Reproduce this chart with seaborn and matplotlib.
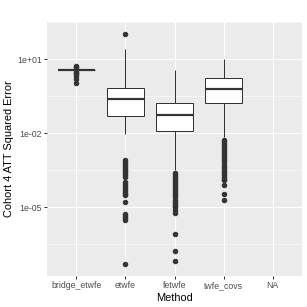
import matplotlib

matplotlib.use("Agg")
import matplotlib.pyplot as plt
import numpy as np
import pandas as pd
import seaborn as sns

# Values, in log10 units
methods = ["bridge_etwfe", "etwfe", "fetwfe", "twfe_covs", "NA"]
box_methods = ["bridge_etwfe", "etwfe", "fetwfe", "twfe_covs"]
q1_log = [0.55, -1.33, -1.90, -0.77]
median_log = [0.55, -0.63, -1.25, -0.20]
q3_log = [0.55, -0.18, -0.80, 0.22]
whisker_lo_log = [0.55, -2.04, -3.52, -2.18]
whisker_hi_log = [0.55, 1.42, 0.57, 0.98]

outliers_bridge = [0.72, 0.66, 0.61, 0.49, 0.44, 0.38, 0.33, 0.18, 0.03]
outliers_etwfe = [2.01,
                  -3.08, -3.16, -3.24, -3.32, -3.40, -3.48, -3.56, -3.64, -3.72, -3.78,
                  -3.99, -4.07, -4.15, -4.23, -4.31, -4.39, -4.46, -4.52,
                  -4.81, -5.30, -5.38, -5.46, -5.54, -7.33]
outliers_fetwfe = [-3.62, -3.70, -3.78, -3.86, -3.94, -4.02,
                   -4.12, -4.20, -4.28, -4.36, -4.44, -4.52, -4.59,
                   -4.70, -4.78, -4.86, -4.94, -5.02, -5.13, -5.24,
                   -6.11, -6.78, -7.20]
outliers_twfe_covs = [-2.28, -2.36, -2.44, -2.52, -2.60, -2.68, -2.76, -2.84,
                      -2.92, -3.00, -3.08, -3.17,
                      -3.31, -3.39, -3.47, -3.55, -3.63, -3.71, -3.79, -3.86, -3.92,
                      -4.12, -4.46, -4.70]
outliers = [outliers_bridge, outliers_etwfe, outliers_fetwfe, outliers_twfe_covs]

# rebuild a sample per method whose box stats match the read-off values
rows = []
m = 100
for i, name in enumerate(box_methods):
    vals = ([whisker_lo_log[i]] + [q1_log[i]] * m + [median_log[i]] * m
            + [q3_log[i]] * m + [whisker_hi_log[i]] + outliers[i])
    rows += [(name, 10 ** v) for v in vals]
df = pd.DataFrame(rows, columns=["Method", "err"])

sns.set_theme(style="darkgrid", rc={
    "axes.facecolor": "#EBEBEB",
    "grid.color": "white",
    "axes.edgecolor": "#EBEBEB",
})
plt.rcParams["font.family"] = ["Liberation Sans", "DejaVu Sans"]

fig, ax = plt.subplots(figsize=(307 / 72, 307 / 72), dpi=72)
fig.subplots_adjust(left=47 / 307, right=302 / 307, top=1 - 22 / 307, bottom=1 - 276 / 307)

sns.boxplot(data=df, x="Method", y="err", order=methods, log_scale=True,
            whis=1.5, width=0.75, color="white", linecolor="#333333",
            linewidth=1.0, fliersize=4.5, showcaps=False,
            flierprops=dict(marker="o", markerfacecolor="#333333",
                            markeredgecolor="#333333"),
            medianprops=dict(linewidth=2.2, color="#333333"),
            ax=ax)

all_log = np.concatenate([np.array(o) for o in outliers])
lo, hi = all_log.min(), all_log.max()
span = hi - lo
ax.set_ylim(10 ** (lo - 0.05 * span), 10 ** (hi + 0.05 * span))
ax.set_xlim(-0.6, len(methods) - 0.4)

ax.set_yticks([1e1, 1e-2, 1e-5], ["1e+01", "1e-02", "1e-05"])
ax.set_yticks([10 ** 2.5, 10 ** -0.5, 10 ** -3.5, 10 ** -6.5], minor=True)
ax.set_yticklabels([], minor=True)
ax.grid(which="major", color="white", linewidth=1.07)
ax.grid(which="minor", axis="y", color="white", linewidth=0.53)
ax.set_axisbelow(True)
for s in ax.spines.values():
    s.set_visible(False)

ax.tick_params(axis="both", which="major", length=2.75, width=1.0, color="#333333",
               pad=2.2, labelsize=8.8, labelcolor="#4D4D4D")
ax.tick_params(axis="y", which="minor", length=0)
ax.tick_params(axis="x", bottom=True)
ax.tick_params(axis="y", left=True)

ax.set_xlabel("Method", fontsize=11, color="black", labelpad=2.75)
ax.set_ylabel("Cohort 4 ATT Squared Error", fontsize=11, color="black", labelpad=2.75)

plt.savefig("out.png", dpi=72)
